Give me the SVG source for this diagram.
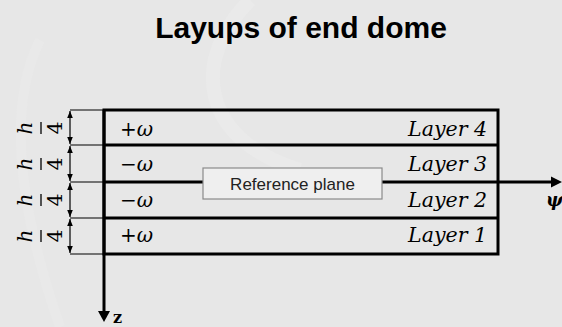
<svg xmlns="http://www.w3.org/2000/svg" width="562" height="327" viewBox="0 0 562 327">
<defs>
<style>
.title{font-family:"Liberation Sans",Arial,sans-serif;font-weight:bold;font-size:30px;fill:#000}
.math{font-family:"DejaVu Serif","Liberation Serif",serif;font-size:20px;fill:#000}
.it{font-style:italic}
.layer{font-family:"DejaVu Serif","Liberation Serif",serif;font-style:italic;font-size:20.5px;fill:#000;text-anchor:end}
.frac{font-family:"DejaVu Serif","Liberation Serif",serif;font-size:20px;fill:#000;text-anchor:middle}
.thick{stroke:#000;stroke-width:3;fill:none}
.thin{stroke:#000;stroke-width:1.2;fill:none}
.dim{stroke:#000;stroke-width:1.2;fill:none;marker-start:url(#ah);marker-end:url(#ah)}
.ref{font-family:"Liberation Sans",Arial,sans-serif;font-size:17px;fill:#222;text-anchor:middle}
</style>
<marker id="ah" viewBox="0 0 10 10" refX="10" refY="5" markerWidth="7" markerHeight="7" markerUnits="userSpaceOnUse" orient="auto-start-reverse">
<path d="M0,1 L10,5 L0,9 Z" fill="#000"/>
</marker>
</defs>
<rect width="562" height="327" fill="#e7e7e7"/>
<path d="M250,0 C190,60 200,140 300,170" stroke="#eaeaea" stroke-width="14" fill="none"/>
<path d="M40,40 C0,120 30,240 60,327" stroke="#e9e9e9" stroke-width="10" fill="none"/>
<text class="title" x="301" y="38" text-anchor="middle">Layups of end dome</text>

<g id="connectors">
<line class="thin" x1="70" y1="110" x2="104" y2="110"/>
<line class="thin" x1="70" y1="145" x2="104" y2="145"/>
<line class="thin" x1="70" y1="182" x2="104" y2="182"/>
<line class="thin" x1="70" y1="218" x2="104" y2="218"/>
<line class="thin" x1="70" y1="254" x2="104" y2="254"/>
<line class="dim" x1="70" y1="111" x2="70" y2="144"/>
<line class="dim" x1="70" y1="146" x2="70" y2="181"/>
<line class="dim" x1="70" y1="183" x2="70" y2="217"/>
<line class="dim" x1="70" y1="219" x2="70" y2="253"/>
<line class="thick" x1="104" y1="110" x2="104" y2="312"/>
<polygon points="98,311 110,311 104,322" fill="#000"/>
<line class="thick" x1="104" y1="182" x2="203" y2="182"/>
<line class="thick" x1="382" y1="182" x2="552" y2="182"/>
<polygon points="551,176.5 551,187.5 562,182" fill="#000"/>
</g>

<g id="layers">
<rect class="thick" x="104" y="110" width="394" height="144"/>
<line class="thick" x1="104" y1="145" x2="498" y2="145"/>
<line class="thick" x1="104" y1="218" x2="498" y2="218"/>
</g>

<g id="layer4">
<text class="math" x="120" y="136">+<tspan class="it">ω</tspan></text>
<text class="layer" x="487" y="136">Layer 4</text>
</g>
<g id="layer3">
<text class="math" x="120" y="171">−<tspan class="it">ω</tspan></text>
<text class="layer" x="487" y="171">Layer 3</text>
</g>
<g id="layer2">
<text class="math" x="120" y="207">−<tspan class="it">ω</tspan></text>
<text class="layer" x="487" y="207">Layer 2</text>
</g>
<g id="layer1">
<text class="math" x="120" y="242">+<tspan class="it">ω</tspan></text>
<text class="layer" x="487" y="242">Layer 1</text>
</g>

<g id="reference-plane">
<rect x="203" y="168" width="179" height="31" fill="#efefef" stroke="#8a8a8a" stroke-width="1.2"/>
<text class="ref" x="292.5" y="190">Reference plane</text>
</g>

<g id="dim-labels">
<g transform="translate(0,128) rotate(-90)">
<text class="frac" x="0" y="32" font-style="italic">h</text>
<line x1="-6" y1="41" x2="6" y2="41" stroke="#000" stroke-width="1.3"/>
<text class="frac" x="0" y="62">4</text>
</g>
<g transform="translate(0,164) rotate(-90)">
<text class="frac" x="0" y="32" font-style="italic">h</text>
<line x1="-6" y1="41" x2="6" y2="41" stroke="#000" stroke-width="1.3"/>
<text class="frac" x="0" y="62">4</text>
</g>
<g transform="translate(0,200) rotate(-90)">
<text class="frac" x="0" y="32" font-style="italic">h</text>
<line x1="-6" y1="41" x2="6" y2="41" stroke="#000" stroke-width="1.3"/>
<text class="frac" x="0" y="62">4</text>
</g>
<g transform="translate(0,236) rotate(-90)">
<text class="frac" x="0" y="32" font-style="italic">h</text>
<line x1="-6" y1="41" x2="6" y2="41" stroke="#000" stroke-width="1.3"/>
<text class="frac" x="0" y="62">4</text>
</g>
</g>

<g id="axis-labels">
<text x="546" y="206" font-family="DejaVu Serif, serif" font-weight="bold" font-style="italic" font-size="18">ψ</text>
<text x="113" y="323" font-family="DejaVu Serif, serif" font-weight="bold" font-size="16">z</text>
</g>
</svg>
